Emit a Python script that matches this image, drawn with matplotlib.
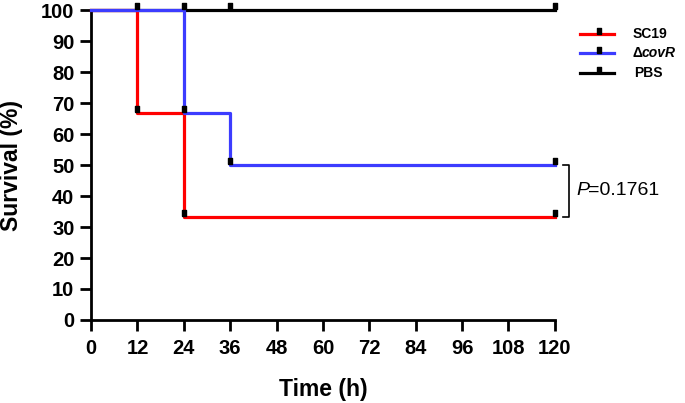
import matplotlib
matplotlib.use("Agg")
import matplotlib.pyplot as plt

plt.rcParams['font.family'] = ['Liberation Sans', 'DejaVu Sans']

# survival data (step curves)
sc19_t = [0, 12, 24, 120]
sc19_s = [100, 66.7, 33.3, 33.3]
covr_t = [0, 24, 36, 120]
covr_s = [100, 66.7, 50, 50]
pbs_t = [0, 12, 24, 36, 120]
pbs_s = [100, 100, 100, 100, 100]

# censor / event ticks
sc19_mt = [12, 24, 120]
sc19_ms = [66.7, 33.3, 33.3]
covr_mt = [24, 36, 120]
covr_ms = [66.7, 50, 50]
pbs_mt = [12, 24, 36, 120]
pbs_ms = [100, 100, 100, 100]

xticks = list(range(0, 121, 12))
yticks = list(range(0, 101, 10))
p_text = "=0.1761"

# small upright rectangle used as tick mark
rect = [(-0.6, -1), (0.6, -1), (0.6, 1), (-0.6, 1), (-0.6, -1)]

fig = plt.figure(figsize=(6.85, 4.03), dpi=100)
ax = fig.add_axes([0.133, 0.206, 0.677, 0.769])

series = [(pbs_t, pbs_s, pbs_mt, pbs_ms, 'black'),
          (sc19_t, sc19_s, sc19_mt, sc19_ms, '#ff0000'),
          (covr_t, covr_s, covr_mt, covr_ms, '#3c3cff')]
for t, s, mt, ms, c in series:
    ax.step(t, s, where='post', color=c, lw=2.3, zorder=3, clip_on=False)
    ax.plot(mt, [v + 1.3 for v in ms], ls='none', marker=rect, ms=5,
            color='black', zorder=4, clip_on=False)

ax.set_xlim(0, 120)
ax.set_ylim(0, 100)
ax.set_xticks(xticks)
ax.set_yticks(yticks)
ax.tick_params(width=2, length=8, labelsize=14.5, direction='out', pad=4)
ax.tick_params(axis='x', pad=6)
for lbl in ax.get_xticklabels() + ax.get_yticklabels():
    lbl.set_fontweight('bold')
for sp in ['top', 'right']:
    ax.spines[sp].set_visible(False)
ax.spines['left'].set_linewidth(2)
ax.spines['bottom'].set_linewidth(2)
ax.set_xlabel('Time (h)', fontsize=16.5, fontweight='bold')
ax.set_ylabel('Survival (%)', fontsize=16.5, fontweight='bold')
ax.xaxis.set_label_coords(0.5, -0.187)
ax.yaxis.set_label_coords(-0.147, 0.5)

# legend drawn by hand
leg = [('#ff0000', 0.916), ('#3c3cff', 0.868), ('black', 0.819)]
for c, y in leg:
    fig.lines.append(plt.Line2D([0.847, 0.896], [y, y], color=c, lw=2.3,
                                transform=fig.transFigure))
    fig.lines.append(plt.Line2D([0.874], [y + 0.008], marker=rect, ms=4.5,
                                color='black', transform=fig.transFigure))
fig.text(0.923, 0.916, 'SC19', fontsize=10, fontweight='bold', va='center')
fig.text(0.923, 0.868, '\u0394', fontsize=10, fontweight='bold', va='center')
fig.text(0.937, 0.868, 'covR', fontsize=10, fontweight='bold', style='italic', va='center')
fig.text(0.926, 0.819, 'PBS', fontsize=10, fontweight='bold', va='center')

# significance bracket
ax.plot([122, 123.7, 123.7, 122], [50, 50, 33.3, 33.3], color='black', lw=1.2,
        clip_on=False)
ax.text(125.6, 41.7, 'P', fontsize=14, style='italic', va='center')
ax.text(128.6, 41.7, p_text, fontsize=14, va='center')

fig.savefig('out.png', dpi=100)
